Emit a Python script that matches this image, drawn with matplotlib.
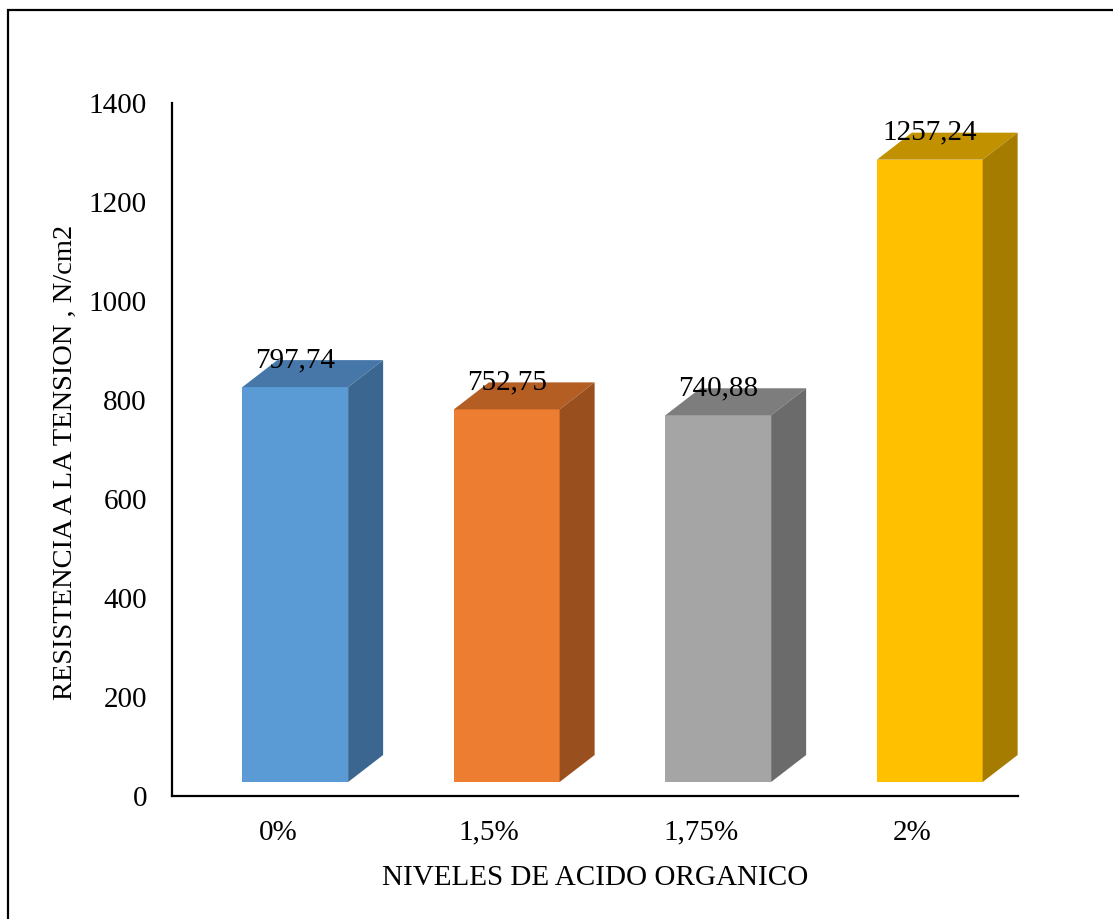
import matplotlib
matplotlib.use("Agg")
import matplotlib.pyplot as plt
from matplotlib.transforms import ScaledTranslation
from matplotlib.patches import Rectangle

plt.rcParams['font.family'] = ['Liberation Serif', 'DejaVu Serif']

# data
niveles = ['0%', '1,5%', '1,75%', '2%']
resistencia = [797.74, 752.75, 740.88, 1257.24]
etiquetas = ['797,74', '752,75', '740,88', '1257,24']

# colours: front, top, side
col_front = ['#5B9BD5', '#ED7D31', '#A5A5A5', '#FFC000']
col_top = ['#4677A8', '#B45E24', '#7D7D7D', '#C29100']
col_side = ['#3A6690', '#9A4F1E', '#6B6B6B', '#A67C00']

fig = plt.figure(figsize=(11.13, 9.19), dpi=100)
ax = fig.add_axes([172/1113, 1 - 796/919, 846/1113, 693/919])

ax.set_xlim(-0.5, 3.5)
ax.set_ylim(0, 1400)

# 3D look: shift of the front face and depth of the box
shift = ax.transData + ScaledTranslation(17.5/100, 14/100, fig.dpi_scale_trans)
w = 0.5
ddx = 35 / (846/4)          # depth in x data units
ddy = 27 / (693/1400)       # depth in y data units

xs = range(len(niveles))
ax.bar(xs, resistencia, width=w, color=col_front, transform=shift,
       clip_on=False, zorder=3)

for i, v in enumerate(resistencia):
    x0, x1 = i - w/2, i + w/2
    ax.fill([x0, x1, x1 + ddx, x0 + ddx], [v, v, v + ddy, v + ddy],
            color=col_top[i], transform=shift, clip_on=False, zorder=3,
            lw=0)
    ax.fill([x1, x1 + ddx, x1 + ddx, x1], [0, ddy, v + ddy, v],
            color=col_side[i], transform=shift, clip_on=False, zorder=3,
            lw=0)
    ax.text(i, v + ddy, etiquetas[i], transform=shift, ha='center',
            va='center', fontsize=21, zorder=4)

ax.set_xticks(list(xs))
ax.set_xticklabels(niveles)
ax.set_yticks(range(0, 1401, 200))
ax.tick_params(length=0, labelsize=21)
ax.tick_params(axis='y', pad=18)
ax.tick_params(axis='x', pad=17)

for s in ['top', 'right']:
    ax.spines[s].set_visible(False)
for s in ['left', 'bottom']:
    ax.spines[s].set_linewidth(1.6)

ax.set_xlabel('NIVELES DE ACIDO ORGANICO', fontsize=21, labelpad=14)
ax.set_ylabel('RESISTENCIA A LA TENSION , N/cm2', fontsize=20.5, labelpad=8)
ax.yaxis.label.set_y(0.482)

# outer frame
fig.patches.append(Rectangle((8/1113, -0.05), 1.2, 1 - 10/919 + 0.05,
                             transform=fig.transFigure, fill=False,
                             lw=1.6, ec='black'))

fig.savefig('out.png', dpi=100)
